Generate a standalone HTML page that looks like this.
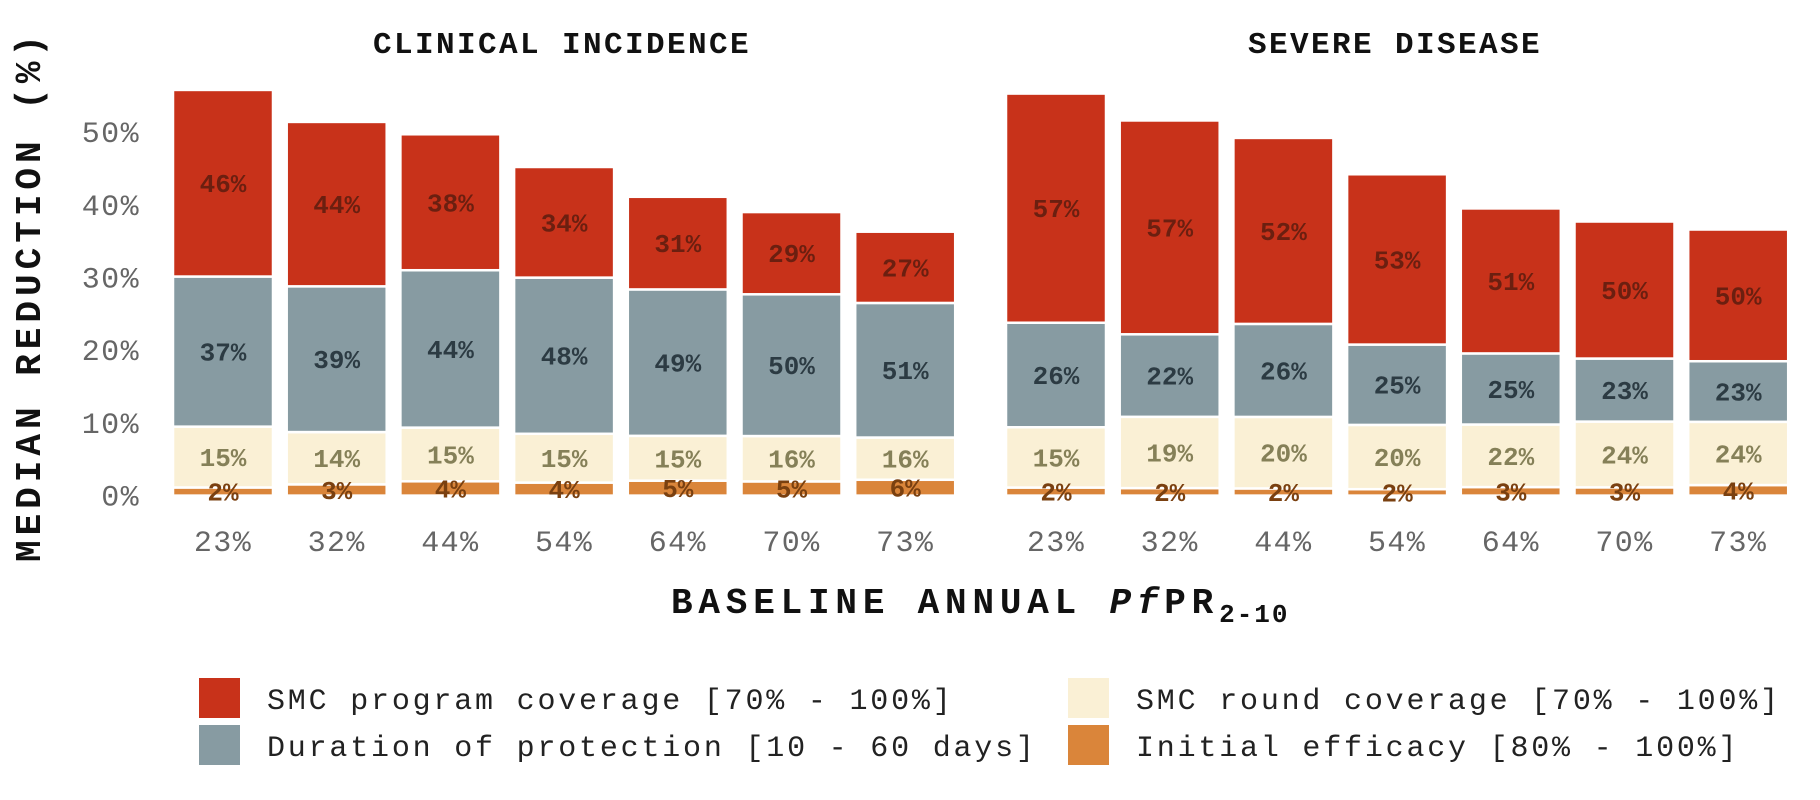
<!DOCTYPE html>
<html><head><meta charset="utf-8"><style>
html,body{margin:0;padding:0;background:#fff;}
svg{display:block;font-family:"Liberation Mono",monospace;}
</style></head><body>
<svg id="chart" width="1820" height="800" viewBox="0 0 1820 800">
<g id="root"></g>
</svg>
<script>
const categories = ["23%","32%","44%","54%","64%","70%","73%"];
const yTicks = [0,10,20,30,40,50];
const panelTitles = ["CLINICAL INCIDENCE","SEVERE DISEASE"];
const clinicalTotals = [55.8,51.4,49.7,45.2,41.1,39.0,36.3];
const clinicalProgram = [46,44,38,34,31,29,27];
const clinicalDuration = [37,39,44,48,49,50,51];
const clinicalRound = [15,14,15,15,15,16,16];
const clinicalEfficacy = [2,3,4,4,5,5,6];
const severeTotals = [55.3,51.6,49.2,44.2,39.5,37.7,36.6];
const severeProgram = [57,57,52,53,51,50,50];
const severeDuration = [26,22,26,25,25,23,23];
const severeRound = [15,19,20,20,22,24,24];
const severeEfficacy = [2,2,2,2,3,3,4];

const NS="http://www.w3.org/2000/svg";
const root=document.getElementById('root');
function mk(tag,attrs,parent){const e=document.createElementNS(NS,tag);for(const k in attrs)e.setAttribute(k,attrs[k]);(parent||root).appendChild(e);return e;}
const y0=495.6, pxPer=7.27;
function yScale(v){return y0-v*pxPer;}
const panels=[{x0:173,title:panelTitles[0],tx:562,tot:clinicalTotals,segs:[clinicalEfficacy,clinicalRound,clinicalDuration,clinicalProgram],key:"clinical"},
{x0:1006,title:panelTitles[1],tx:1395,tot:severeTotals,segs:[severeEfficacy,severeRound,severeDuration,severeProgram],key:"severe"}];
const pitch=113.7, bw=100;
function xScale(p,i){return p.x0+i*pitch;}
const fills=["#DA853A","#FAF0D5","#879BA2","#C8321A"];
const lblCol=["#7a4010","#858058","#2c3b43","#6b1f10"];
const segNames=["efficacy","round","duration","program"];

yTicks.forEach(t=>{
  const e=mk('text',{x:140,y:yScale(t)+10,'text-anchor':'end','font-size':30,fill:'#666','letter-spacing':1.4});
  e.textContent=t+'%';
  
  
});

panels.forEach(p=>{
  const t=mk('text',{x:p.tx,y:53,'text-anchor':'middle','font-size':31,'font-weight':'bold',fill:'#111','letter-spacing':2.4});
  t.textContent=p.title;
  
  
  categories.forEach((c,i)=>{
    const x=xScale(p,i);
    const total=p.tot[i];
    const sum=p.segs.reduce((a,s)=>a+s[i],0);
    let acc=0;
    p.segs.forEach((s,k)=>{
      const v=total*s[i]/sum;
      const yb=yScale(acc), yt=yScale(acc+v);
      const r=mk('rect',{x:x,y:yt,width:bw,height:Math.max(yb-yt,0),fill:fills[k],stroke:'#fff','stroke-width':2.5});
      
      
      acc+=v;
    });
    acc=0;
    p.segs.forEach((s,k)=>{
      const v=total*s[i]/sum;
      const yc=(yScale(acc)+yScale(acc+v))/2;
      const l=mk('text',{x:x+bw/2,y:yc+9,'text-anchor':'middle','font-size':26,'font-weight':'bold',fill:lblCol[k]});
      l.textContent=s[i]+'%';
      
      
      acc+=v;
    });
    const xt=mk('text',{x:x+bw/2,y:551,'text-anchor':'middle','font-size':30,fill:'#666','letter-spacing':1.4});
    xt.textContent=c;
    
    
  });
});

const yt=mk('text',{x:0,y:0,transform:'translate(40,296) rotate(-90)','text-anchor':'middle','font-size':36,'font-weight':'bold',fill:'#111','letter-spacing':5});
yt.textContent='MEDIAN REDUCTION (%)';


const xt=mk('text',{x:671,y:613,'font-size':36,'font-weight':'bold',fill:'#111','letter-spacing':5.8});


const ts1=document.createElementNS(NS,'tspan');ts1.textContent='BASELINE ANNUAL ';xt.appendChild(ts1);
const ts2=document.createElementNS(NS,'tspan');ts2.setAttribute('font-style','italic');ts2.textContent='Pf';xt.appendChild(ts2);
const ts3=document.createElementNS(NS,'tspan');ts3.textContent='PR';xt.appendChild(ts3);
const ts4=document.createElementNS(NS,'tspan');ts4.setAttribute('font-size',26);ts4.setAttribute('dy',9);ts4.setAttribute('letter-spacing',2);ts4.textContent='2-10';xt.appendChild(ts4);

const legend=[
 {x:199,y:678,c:fills[3],t:'SMC program coverage [70% - 100%]',n:'program'},
 {x:199,y:725,c:fills[2],t:'Duration of protection [10 - 60 days]',n:'duration'},
 {x:1068,y:678,c:fills[1],t:'SMC round coverage [70% - 100%]',n:'round'},
 {x:1068,y:725,c:fills[0],t:'Initial efficacy [80% - 100%]',n:'efficacy'}];
legend.forEach(L=>{
  const g=mk('g',{});
  
  
  mk('rect',{x:L.x,y:L.y,width:41,height:40,fill:L.c},g);
  const t=mk('text',{x:L.x+68,y:L.y+31,'font-size':30,fill:'#222','letter-spacing':2.8},g);
  t.textContent=L.t;
});
</script>
</body></html>
